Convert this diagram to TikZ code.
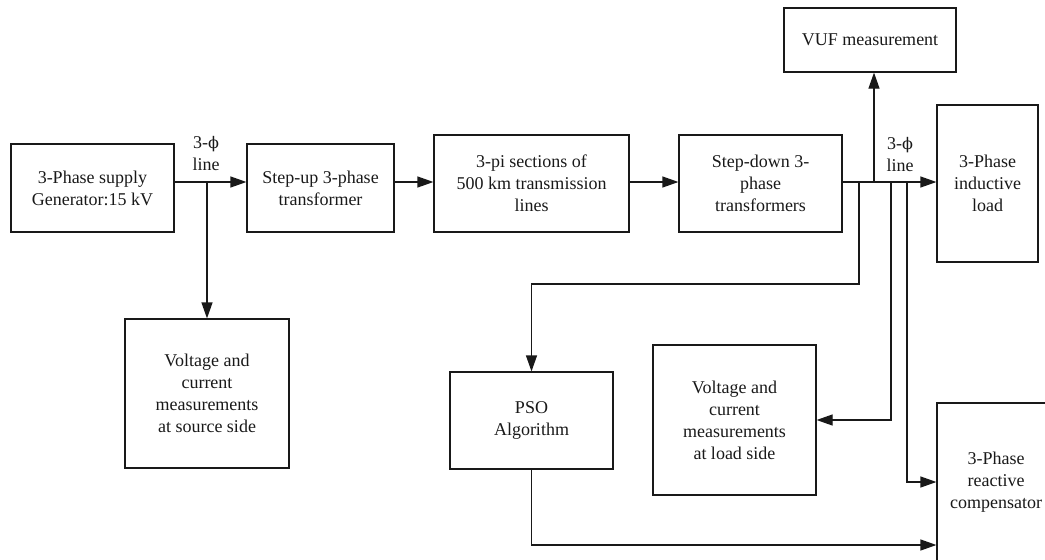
\documentclass[tikz,border=0pt]{standalone}
\usepackage{fontspec}
\setmainfont{Liberation Serif}
\newfontfamily\greekfont{DejaVu Serif}
\newcommand{\phase}{{\greekfont\fontsize{16}{22}\selectfont ϕ}}
\usetikzlibrary{arrows.meta}

\begin{document}
\begin{tikzpicture}[x=1pt, y=-1pt, line width=1.2pt, color=black!90,
  blk/.style={draw, rectangle, inner sep=0pt, align=center, font=\fontsize{18}{22}\selectfont},
  lbl/.style={inner sep=0pt, align=center, font=\fontsize{18}{22}\selectfont},
  arr/.style={-{Triangle[length=16pt,width=11pt]}}]
  \clip (0,0) rectangle (1045,560);
  \node[blk, minimum width=163pt, minimum height=88pt] (supply) at (92.5,188) {3-Phase supply\\Generator:15 kV};
  \node[blk, minimum width=147pt, minimum height=88pt] (stepup) at (320.5,188) {Step-up 3-phase\\transformer};
  \node[blk, minimum width=195pt, minimum height=97pt] (pisec) at (531.5,183.5) {3-pi sections of\\500 km transmission\\lines};
  \node[blk, minimum width=163pt, minimum height=97pt] (stepdown) at (760.5,183.5) {Step-down 3-\\phase\\transformers};
  \node[blk, minimum width=172pt, minimum height=64pt] (vuf) at (870,40) {VUF measurement};
  \node[blk, minimum width=101pt, minimum height=157pt] (indload) at (987.5,183.5) {3-Phase\\inductive\\load};
  \node[blk, minimum width=164pt, minimum height=149pt] (srcmeas) at (207,393.5) {Voltage and\\current\\measurements\\at source side};
  \node[blk, minimum width=163pt, minimum height=97pt] (pso) at (531.5,420.5) {PSO\\Algorithm};
  \node[blk, minimum width=163pt, minimum height=150pt] (loadmeas) at (734.5,420) {Voltage and\\current\\measurements\\at load side};
  \node[blk, minimum width=118pt, minimum height=158pt] (comp) at (996,482) {3-Phase\\reactive\\compensator};
  \node[lbl] (lbla) at (206,154) {3-\phase\\line};
  \node[lbl] (lblb) at (900,155) {3-\phase\\line};

  \coordinate (lvl) at (0,182);
  \coordinate (fb) at (0,545);
  \coordinate (jsrc) at (207,182);
  \coordinate (jpso) at (859,182);
  \coordinate (jvuf) at (874,182);
  \coordinate (jload) at (891,182);
  \coordinate (jcomp) at (907,182);

  \draw[arr] (supply.east |- lvl) -- (stepup.west |- lvl);
  \draw[arr] (stepup.east |- lvl) -- (pisec.west |- lvl);
  \draw[arr] (pisec.east |- lvl) -- (stepdown.west |- lvl);
  \draw[arr] (stepdown.east |- lvl) -- (indload.west |- lvl);
  \draw[arr] (jsrc) -- (srcmeas.north);
  \draw[arr] (jvuf) -- (vuf.south -| jvuf);
  \draw[arr] (jpso) -- ++(0,102) -| (pso.north);
  \draw[arr] (jload) |- (loadmeas.east);
  \draw[arr] (jcomp) |- (comp.west);
  \draw[arr] (pso.south) |- (comp.west |- fb);
\end{tikzpicture}
\end{document}
